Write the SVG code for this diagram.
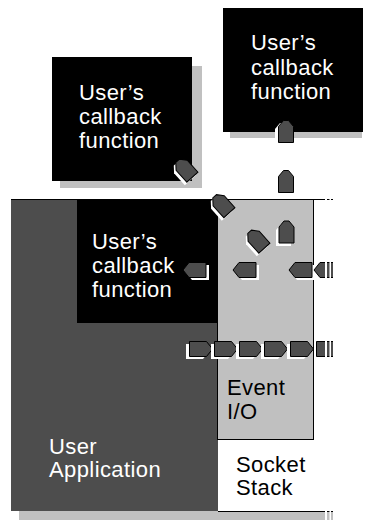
<svg xmlns="http://www.w3.org/2000/svg" xmlns:xlink="http://www.w3.org/1999/xlink" width="366" height="520" viewBox="0 0 366 520">
<style>
.lbl{font-family:"Liberation Sans",Arial,sans-serif;font-size:22px;letter-spacing:0.4px}
.w{fill:#ffffff}
.k{fill:#000000}
.tag{fill:#4d4d4d;stroke:#000;stroke-width:1}
.sh{fill:#ffffff}
.gs{fill:#c0c0c0}
</style>
<defs>
<path id="tagR" d="M0,0 H17 L23,7.5 L17,15 H0 Z"/>
<path id="tagL" d="M23,0 H6 L0,7.5 L6,15 H23 Z"/>
<path id="tagU" d="M0,22 V6 L5,0 H10 L15,6 V22 Z"/>
<path id="tagD" d="M-7.5,11 V-5 L-2.5,-11 H2.5 L7.5,-5 V11 Z"/>
</defs>

<g id="callback-top-right">
<rect class="gs" x="230" y="16" width="132" height="122"/>
<rect class="k" x="223" y="8" width="140" height="124"/>
<text class="lbl w"><tspan x="251" y="50">User’s</tspan><tspan x="251" y="74.5">callback</tspan><tspan x="251" y="99">function</tspan></text>
</g>

<g id="callback-left">
<rect class="gs" x="60" y="66" width="142" height="122"/>
<rect class="k" x="52" y="57" width="140" height="124"/>
<text class="lbl w"><tspan x="79" y="100">User’s</tspan><tspan x="79" y="124">callback</tspan><tspan x="79" y="148">function</tspan></text>
</g>

<g id="user-application">
<rect class="gs" x="19" y="511" width="314" height="9"/>
<rect x="11" y="199" width="207" height="312" fill="#4d4d4d"/>
<text class="lbl w"><tspan x="49" y="454">User</tspan><tspan x="49" y="477">Application</tspan></text>
</g>

<g id="socket-stack">
<rect x="218" y="199" width="115" height="312" fill="#ffffff"/>
<line x1="11" y1="199.5" x2="333" y2="199.5" stroke="#000" stroke-width="1"/>
<line x1="218" y1="511.5" x2="333" y2="511.5" stroke="#000" stroke-width="1"/>
<text class="lbl k"><tspan x="236" y="472">Socket</tspan><tspan x="236" y="495">Stack</tspan></text>
</g>

<g id="event-io">
<rect x="217.5" y="199.5" width="96" height="240" fill="#c0c0c0" stroke="#000" stroke-width="1"/>
<text class="lbl k"><tspan x="227" y="395">Event</tspan><tspan x="227" y="419">I/O</tspan></text>
</g>

<g id="callback-inner">
<rect class="k" x="77" y="200" width="140.5" height="123"/>
<text class="lbl w"><tspan x="92" y="249">User’s</tspan><tspan x="92" y="273">callback</tspan><tspan x="92" y="297">function</tspan></text>
</g>

<g id="connectors">
<!-- up tags -->
<use href="#tagU" class="sh" x="275" y="123"/>
<use href="#tagU" class="tag" x="278.5" y="120.5"/>
<use href="#tagU" class="tag" x="278.5" y="170.5"/>
<use href="#tagU" class="sh" x="276" y="224"/>
<use href="#tagU" class="tag" x="279" y="221"/>
<!-- diagonal tags -->
<g transform="translate(183,172) rotate(-42)"><use href="#tagD" class="sh"/></g>
<g transform="translate(185,169) rotate(-42)"><use href="#tagD" class="tag"/></g>
<g transform="translate(220,207.5) rotate(-42)"><use href="#tagD" class="sh"/></g>
<g transform="translate(222,204.5) rotate(-42)"><use href="#tagD" class="tag"/></g>
<g transform="translate(255,243) rotate(-42)"><use href="#tagD" class="sh"/></g>
<g transform="translate(257,240) rotate(-42)"><use href="#tagD" class="tag"/></g>
<!-- left tags -->
<use href="#tagL" class="sh" x="186" y="265"/>
<use href="#tagL" class="tag" x="183" y="262.5"/>
<use href="#tagL" class="sh" x="236" y="265"/>
<use href="#tagL" class="tag" x="233" y="262.5"/>
<use href="#tagL" class="sh" x="291" y="265"/>
<use href="#tagL" class="tag" x="289" y="262.5"/>
<use href="#tagL" class="tag" x="314" y="262.5"/>
<!-- right tags -->
<use href="#tagR" class="sh" x="186" y="344"/>
<use href="#tagR" class="tag" x="189.5" y="341.5"/>
<use href="#tagR" class="sh" x="211" y="344"/>
<use href="#tagR" class="tag" x="214.5" y="341.5"/>
<use href="#tagR" class="sh" x="236" y="344"/>
<use href="#tagR" class="tag" x="239.5" y="341.5"/>
<use href="#tagR" class="sh" x="261" y="344"/>
<use href="#tagR" class="tag" x="264.5" y="341.5"/>
<use href="#tagR" class="sh" x="287" y="344"/>
<use href="#tagR" class="tag" x="290.5" y="341.5"/>
<use href="#tagR" class="tag" x="316.5" y="341.5"/>
<!-- torn right edge -->
<rect x="325" y="195" width="2" height="325" fill="#fff"/>
<rect x="329.5" y="195" width="1.5" height="325" fill="#fff"/>
<rect x="333" y="195" width="33" height="325" fill="#fff"/>
</g>
</svg>
